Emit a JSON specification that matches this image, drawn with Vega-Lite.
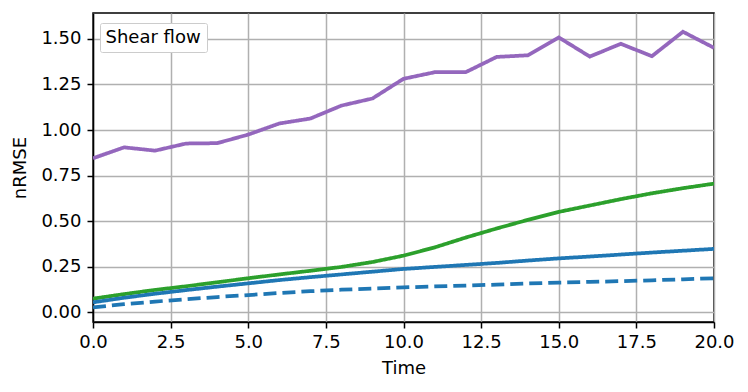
{
  "$schema": "https://vega.github.io/schema/vega-lite/v6.json",
  "width": 621,
  "height": 309,
  "autosize": {"type": "none"},
  "padding": {"left": 93, "top": 13, "right": 34, "bottom": 70},
  "background": "white",
  "config": {
    "font": "DejaVu Sans",
    "view": {"stroke": "black", "strokeWidth": 1.5},
    "axis": {
      "labelFont": "DejaVu Sans",
      "titleFont": "DejaVu Sans",
      "labelFontSize": 18,
      "titleFontSize": 18,
      "titleFontWeight": "normal",
      "labelColor": "black",
      "titleColor": "black",
      "domainColor": "black",
      "domainWidth": 1.5,
      "tickColor": "black",
      "tickWidth": 1.5,
      "tickSize": 6,
      "labelPadding": 4,
      "labelFlush": false,
      "labelOverlap": false,
      "gridColor": "#b0b0b0",
      "gridWidth": 1.5,
      "gridOpacity": 1
    },
    "legend": {
      "labelFont": "DejaVu Sans",
      "labelFontSize": 18,
      "labelColor": "black"
    }
  },
  "datasets": {
    "lines": [
      {"t": 0, "series": "purple", "v": 0.845}, {"t": 1, "series": "purple", "v": 0.905}, {"t": 2, "series": "purple", "v": 0.887}, {"t": 3, "series": "purple", "v": 0.926}, {"t": 4, "series": "purple", "v": 0.928}, {"t": 5, "series": "purple", "v": 0.975}, {"t": 6, "series": "purple", "v": 1.036}, {"t": 7, "series": "purple", "v": 1.063}, {"t": 8, "series": "purple", "v": 1.134}, {"t": 9, "series": "purple", "v": 1.173}, {"t": 10, "series": "purple", "v": 1.281}, {"t": 11, "series": "purple", "v": 1.317}, {"t": 12, "series": "purple", "v": 1.317}, {"t": 13, "series": "purple", "v": 1.401}, {"t": 14, "series": "purple", "v": 1.41}, {"t": 15, "series": "purple", "v": 1.508}, {"t": 16, "series": "purple", "v": 1.403}, {"t": 17, "series": "purple", "v": 1.473}, {"t": 18, "series": "purple", "v": 1.405}, {"t": 19, "series": "purple", "v": 1.539}, {"t": 20, "series": "purple", "v": 1.451},
      {"t": 0, "series": "green", "v": 0.075}, {"t": 1, "series": "green", "v": 0.1}, {"t": 2, "series": "green", "v": 0.123}, {"t": 3, "series": "green", "v": 0.143}, {"t": 4, "series": "green", "v": 0.165}, {"t": 5, "series": "green", "v": 0.187}, {"t": 6, "series": "green", "v": 0.208}, {"t": 7, "series": "green", "v": 0.228}, {"t": 8, "series": "green", "v": 0.249}, {"t": 9, "series": "green", "v": 0.276}, {"t": 10, "series": "green", "v": 0.311}, {"t": 11, "series": "green", "v": 0.356}, {"t": 12, "series": "green", "v": 0.41}, {"t": 13, "series": "green", "v": 0.46}, {"t": 14, "series": "green", "v": 0.507}, {"t": 15, "series": "green", "v": 0.551}, {"t": 16, "series": "green", "v": 0.586}, {"t": 17, "series": "green", "v": 0.621}, {"t": 18, "series": "green", "v": 0.653}, {"t": 19, "series": "green", "v": 0.681}, {"t": 20, "series": "green", "v": 0.706},
      {"t": 0, "series": "blue", "v": 0.055}, {"t": 1, "series": "blue", "v": 0.08}, {"t": 2, "series": "blue", "v": 0.102}, {"t": 3, "series": "blue", "v": 0.122}, {"t": 4, "series": "blue", "v": 0.141}, {"t": 5, "series": "blue", "v": 0.159}, {"t": 6, "series": "blue", "v": 0.177}, {"t": 7, "series": "blue", "v": 0.193}, {"t": 8, "series": "blue", "v": 0.208}, {"t": 9, "series": "blue", "v": 0.223}, {"t": 10, "series": "blue", "v": 0.238}, {"t": 11, "series": "blue", "v": 0.249}, {"t": 12, "series": "blue", "v": 0.26}, {"t": 13, "series": "blue", "v": 0.271}, {"t": 14, "series": "blue", "v": 0.284}, {"t": 15, "series": "blue", "v": 0.296}, {"t": 16, "series": "blue", "v": 0.306}, {"t": 17, "series": "blue", "v": 0.317}, {"t": 18, "series": "blue", "v": 0.328}, {"t": 19, "series": "blue", "v": 0.338}, {"t": 20, "series": "blue", "v": 0.348},
      {"t": 0, "series": "blue dashed", "v": 0.027}, {"t": 1, "series": "blue dashed", "v": 0.045}, {"t": 2, "series": "blue dashed", "v": 0.059}, {"t": 3, "series": "blue dashed", "v": 0.072}, {"t": 4, "series": "blue dashed", "v": 0.084}, {"t": 5, "series": "blue dashed", "v": 0.095}, {"t": 6, "series": "blue dashed", "v": 0.106}, {"t": 7, "series": "blue dashed", "v": 0.116}, {"t": 8, "series": "blue dashed", "v": 0.124}, {"t": 9, "series": "blue dashed", "v": 0.131}, {"t": 10, "series": "blue dashed", "v": 0.137}, {"t": 11, "series": "blue dashed", "v": 0.142}, {"t": 12, "series": "blue dashed", "v": 0.147}, {"t": 13, "series": "blue dashed", "v": 0.152}, {"t": 14, "series": "blue dashed", "v": 0.158}, {"t": 15, "series": "blue dashed", "v": 0.163}, {"t": 16, "series": "blue dashed", "v": 0.167}, {"t": 17, "series": "blue dashed", "v": 0.171}, {"t": 18, "series": "blue dashed", "v": 0.176}, {"t": 19, "series": "blue dashed", "v": 0.181}, {"t": 20, "series": "blue dashed", "v": 0.187}
    ],
    "label": [{"panel": "Shear flow"}]
  },
  "layer": [
    {
      "data": {"name": "lines"},
      "mark": {"type": "line", "strokeWidth": 3.75, "strokeCap": "butt", "clip": true},
      "encoding": {
        "x": {
          "field": "t", "type": "quantitative",
          "scale": {"domain": [0, 20], "nice": false, "zero": false},
          "axis": {"title": "Time", "values": [0, 2.5, 5, 7.5, 10, 12.5, 15, 17.5, 20], "format": ".1f", "labelFontSize": 18, "titleFontSize": 18, "labelPadding": 5, "titlePadding": 8}
        },
        "y": {
          "field": "v", "type": "quantitative",
          "scale": {"domain": [-0.053, 1.642], "nice": false, "zero": false},
          "axis": {"title": "nRMSE", "values": [0, 0.25, 0.5, 0.75, 1, 1.25, 1.5], "format": ".2f", "labelFontSize": 18, "titleFontSize": 18, "labelPadding": 6, "titlePadding": 11}
        },
        "color": {
          "field": "series", "type": "nominal",
          "scale": {"domain": ["purple", "green", "blue", "blue dashed"], "range": ["#9467bd", "#2ca02c", "#1f77b4", "#1f77b4"]},
          "legend": null
        },
        "strokeDash": {
          "field": "series", "type": "nominal",
          "scale": {"domain": ["purple", "green", "blue", "blue dashed"], "range": [[1, 0], [1, 0], [1, 0], [13, 6]]},
          "legend": null
        }
      }
    },
    {
      "data": {"name": "label"},
      "mark": {"type": "point", "opacity": 0},
      "encoding": {
        "shape": {
          "field": "panel", "type": "nominal",
          "legend": {
            "title": null,
            "orient": "none",
            "legendX": 7,
            "legendY": 10,
            "symbolSize": 0,
            "symbolOpacity": 0,
            "symbolStrokeWidth": 0,
            "labelOffset": -18,
            "padding": 5.5,
            "strokeColor": "#cccccc",
            "fillColor": "white",
            "cornerRadius": 2
          }
        }
      }
    }
  ]
}
